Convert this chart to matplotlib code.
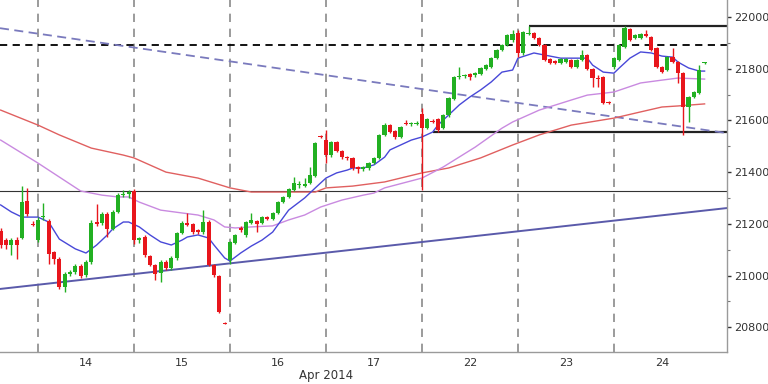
import numpy as np
import matplotlib
matplotlib.use('Agg')
import matplotlib.pyplot as plt
import matplotlib.transforms as mtransforms

# ---- candle data (one list per field, grouped by trading day) ----
# first 7 candles are the tail of Apr 11, then 18 bars per day
opens = [
    21172, 21137, 21118, 21137, 21145, 21288, 21199,
    21137, 21225, 21211, 21091, 21064, 20956, 21006, 21014, 21037, 21002, 21052, 21207, 21203, 21238, 21180, 21246, 21311, 21315,
    21327, 21137, 21149, 21076, 21041, 21010, 21052, 21029, 21068, 21165, 21203, 21199, 21176, 21168, 21207, 21041, 20998, 20818,
    21060, 21126, 21184, 21157, 21203, 21211, 21203, 21226, 21219, 21242, 21284, 21304, 21331, 21350, 21348, 21358, 21385, 21538,
    21524, 21466, 21517, 21482, 21458, 21454, 21418, 21412, 21416, 21435, 21454, 21544, 21582, 21559, 21536, 21590, 21586, 21588,
    21625, 21571, 21598, 21605, 21571, 21621, 21683, 21768, 21772, 21780, 21776, 21780, 21799, 21807, 21841, 21872, 21892, 21910,
    21938, 21861, 21936, 21938, 21919, 21892, 21838, 21830, 21822, 21826, 21834, 21807, 21834, 21853, 21799, 21764, 21768, 21671,
    21807, 21834, 21884, 21954, 21919, 21919, 21934, 21923, 21880, 21807, 21795, 21845, 21826, 21783, 21652, 21691, 21706, 21822,
]
highs = [
    21185, 21145, 21145, 21150, 21346, 21339, 21210,
    21225, 21281, 21220, 21095, 21070, 21015, 21020, 21045, 21045, 21060, 21215, 21277, 21245, 21245, 21255, 21318, 21331, 21330,
    21335, 21150, 21155, 21080, 21045, 21060, 21060, 21075, 21170, 21210, 21242, 21205, 21180, 21253, 21215, 21045, 21002, 20822,
    21135, 21162, 21190, 21212, 21242, 21216, 21230, 21232, 21246, 21288, 21308, 21340, 21381, 21365, 21377, 21420, 21517, 21542,
    21563, 21522, 21522, 21486, 21462, 21458, 21422, 21424, 21440, 21458, 21548, 21590, 21586, 21563, 21580, 21602, 21595, 21596,
    21648, 21610, 21605, 21610, 21625, 21690, 21772, 21807, 21780, 21784, 21787, 21807, 21818, 21845, 21876, 21896, 21934, 21950,
    21950, 21946, 21965, 21942, 21923, 21896, 21842, 21834, 21842, 21842, 21838, 21838, 21872, 21857, 21803, 21775, 21772, 21675,
    21845, 21896, 21965, 21958, 21934, 21938, 21950, 21927, 21884, 21811, 21849, 21880, 21830, 21787, 21695, 21714, 21814, 21828,
]
lows = [
    21105, 21103, 21079, 21064, 21140, 21230, 21190,
    21130, 21215, 21045, 21045, 20948, 20936, 21000, 21005, 20990, 20995, 21045, 21190, 21195, 21149, 21175, 21240, 21305, 21300,
    21120, 21125, 21070, 21035, 20983, 20975, 21020, 21020, 21060, 21160, 21190, 21160, 21160, 21160, 21035, 20995, 20855, 20812,
    21045, 21120, 21170, 21150, 21198, 21168, 21198, 21215, 21214, 21238, 21280, 21300, 21326, 21340, 21344, 21354, 21380, 21532,
    21435, 21460, 21478, 21452, 21447, 21410, 21397, 21405, 21410, 21430, 21450, 21540, 21550, 21530, 21532, 21582, 21580, 21582,
    21330, 21565, 21590, 21555, 21565, 21615, 21678, 21762, 21766, 21756, 21770, 21776, 21795, 21803, 21837, 21868, 21888, 21905,
    21845, 21855, 21930, 21915, 21888, 21830, 21818, 21818, 21818, 21822, 21803, 21803, 21830, 21795, 21729, 21729, 21663, 21663,
    21800, 21830, 21880, 21907, 21915, 21915, 21922, 21868, 21803, 21783, 21791, 21822, 21745, 21544, 21594, 21687, 21702, 21818,
]
closes = [
    21118, 21118, 21137, 21118, 21284, 21238, 21195,
    21215, 21230, 21083, 21064, 20956, 21006, 21014, 21037, 20998, 21052, 21203, 21199, 21238, 21180, 21246, 21311, 21315, 21322,
    21137, 21145, 21079, 21041, 21006, 21052, 21029, 21068, 21165, 21203, 21195, 21168, 21168, 21207, 21041, 21002, 20859, 20814,
    21130, 21157, 21176, 21207, 21215, 21199, 21226, 21219, 21242, 21284, 21304, 21335, 21358, 21352, 21356, 21389, 21513, 21536,
    21466, 21517, 21482, 21458, 21454, 21416, 21414, 21420, 21435, 21454, 21544, 21582, 21555, 21536, 21575, 21586, 21590, 21592,
    21571, 21605, 21594, 21563, 21621, 21687, 21768, 21772, 21776, 21768, 21783, 21803, 21814, 21841, 21872, 21892, 21930, 21934,
    21861, 21942, 21940, 21919, 21892, 21834, 21822, 21822, 21838, 21838, 21807, 21834, 21853, 21799, 21764, 21760, 21667, 21667,
    21841, 21892, 21957, 21911, 21930, 21934, 21926, 21872, 21807, 21787, 21845, 21826, 21783, 21652, 21691, 21710, 21795, 21824,
]
first_bar = -7
bars_per_day = 18

day_labels = ['14', '15', '16', '17', '22', '23', '24']
month_label = 'Apr 2014'

blue_x = [-7, -5, -3, 0, 2, 4, 7, 9, 11, 13, 14, 16, 17, 19, 21, 23, 25, 27, 28, 30,
          32, 33, 35, 36, 38, 40, 42, 44, 47, 50, 52, 54, 56, 58, 59, 61, 63, 65, 66, 68,
          70, 72, 74, 75, 77, 79, 81, 83, 85, 87, 89, 90, 93, 95, 98, 101, 103, 104, 106, 108,
          109, 111, 113, 115, 117, 119, 120, 122, 124, 125]
blue_v = [21273, 21246, 21226, 21226, 21207, 21141, 21103, 21087, 21118, 21157, 21180, 21207, 21207, 21188, 21157, 21130, 21118, 21137, 21149, 21157,
          21145, 21118, 21068, 21056, 21087, 21114, 21137, 21168, 21253, 21300, 21339, 21377, 21397, 21408, 21416, 21416, 21428, 21458, 21486, 21505,
          21524, 21536, 21555, 21582, 21621, 21660, 21691, 21718, 21749, 21787, 21795, 21841, 21861, 21853, 21841, 21841, 21841, 21814, 21787, 21783,
          21803, 21841, 21865, 21861, 21849, 21845, 21826, 21803, 21791, 21791]
violet_x = [-7, 0, 4, 8, 12, 15, 17, 19, 23, 27, 30, 33, 35, 37, 40, 44, 47, 50, 53, 57,
            61, 63, 65, 72, 76, 82, 87, 89, 94, 100, 103, 108, 113, 117, 120, 125]
violet_v = [21524, 21435, 21381, 21327, 21311, 21304, 21304, 21284, 21253, 21242, 21234, 21215, 21188, 21184, 21188, 21192, 21215, 21234, 21265, 21292,
            21311, 21319, 21339, 21377, 21420, 21497, 21570, 21594, 21640, 21679, 21698, 21710, 21745, 21756, 21764, 21760]
red_x = [-7, 0, 4, 10, 16, 18, 24, 30, 36, 40, 45, 52, 54, 59, 65, 72, 77, 83, 89, 94,
         100, 108, 113, 117, 120, 125]
red_v = [21640, 21582, 21544, 21493, 21466, 21455, 21400, 21377, 21339, 21323, 21323, 21323, 21339, 21346, 21362, 21397, 21416, 21455, 21505, 21544,
         21582, 21609, 21633, 21652, 21656, 21664]

# drawn lines (trend lines from edge to edge, horizontal levels)
x_left, x_right = -7.125, 129.2
down_trend = [21957, 21551]
up_trend = [20948, 21261]
resistance, resistance_from = 21965, 92
support, support_from = 21555, 74
dashed_level = 21892
thin_level = 21327

# ---- plot ----
fig = plt.figure(figsize=(7.68, 3.84), dpi=100)
ax = fig.add_axes([0, 0.0833, 0.9466, 0.9167])

idx = np.arange(first_bar, first_bar + len(opens))
o = np.array(opens); h = np.array(highs); l = np.array(lows); c = np.array(closes)
up = c >= o
col = np.where(up, '#22b022', '#e8161c')

# day separators
n_days = len(day_labels)
for k in range(n_days):
    ax.axvline(k * bars_per_day, color='#8a8a8a', lw=1.2, ls=(0, (5, 4)), zorder=1)

ax.axhline(thin_level, color='#333333', lw=0.8, zorder=2)
ax.axhline(dashed_level, color='black', lw=1.3, ls=(0, (4, 3)), zorder=2)
ax.hlines(resistance, resistance_from, x_right, color='#222222', lw=1.6, zorder=2)
ax.hlines(support, support_from, x_right, color='#222222', lw=1.6, zorder=2)

ax.plot([x_left, x_right], down_trend, color='#7a7abd', lw=1.3, ls=(0, (5, 3)), zorder=2)
ax.plot([x_left, x_right], up_trend, color='#5a5aaa', lw=1.4, zorder=2)

ax.plot(red_x, red_v, color='#e06060', lw=1.0, zorder=3)
ax.plot(violet_x, violet_v, color='#c98ae0', lw=1.0, zorder=3)
ax.plot(blue_x, blue_v, color='#4848d8', lw=1.0, zorder=3)

# candles
ax.vlines(idx, l, h, colors=col, lw=1.0, zorder=4)
body_bottom = np.minimum(o, c)
body_h = np.maximum(np.abs(c - o), 3)
ax.bar(idx, body_h, bottom=body_bottom, width=0.8, color=col, lw=0, zorder=5)

ax.set_xlim(x_left, x_right)
ax.set_ylim(20704, 22066)

# axes styling
for s in ['left', 'top']:
    ax.spines[s].set_visible(False)
for s in ['right', 'bottom']:
    ax.spines[s].set_color('#9a9a9a')
    ax.spines[s].set_linewidth(1.0)

ax.yaxis.tick_right()
ax.set_yticks(np.arange(20800, 22001, 200))
ax.set_yticks(np.arange(20800, 22001, 100), minor=True)
ax.tick_params(axis='y', which='major', direction='out', length=3, width=1,
               color='#333333', labelsize=8, labelcolor='#333333', pad=2)
ax.tick_params(axis='y', which='minor', direction='out', length=2, width=0.8, color='#777777')

ax.set_xticks([k * bars_per_day + bars_per_day / 2 for k in range(n_days)])
ax.set_xticklabels(day_labels)
ax.tick_params(axis='x', length=0, labelsize=8, labelcolor='#333333', pad=4)

# month label sits under the 16/17 day boundary
trans = mtransforms.blended_transform_factory(ax.transData, fig.transFigure)
ax.text(3 * bars_per_day, 0.023, month_label, transform=trans,
        ha='center', va='center', fontsize=8.5, color='#333333')

fig.savefig('out.png', dpi=100)
